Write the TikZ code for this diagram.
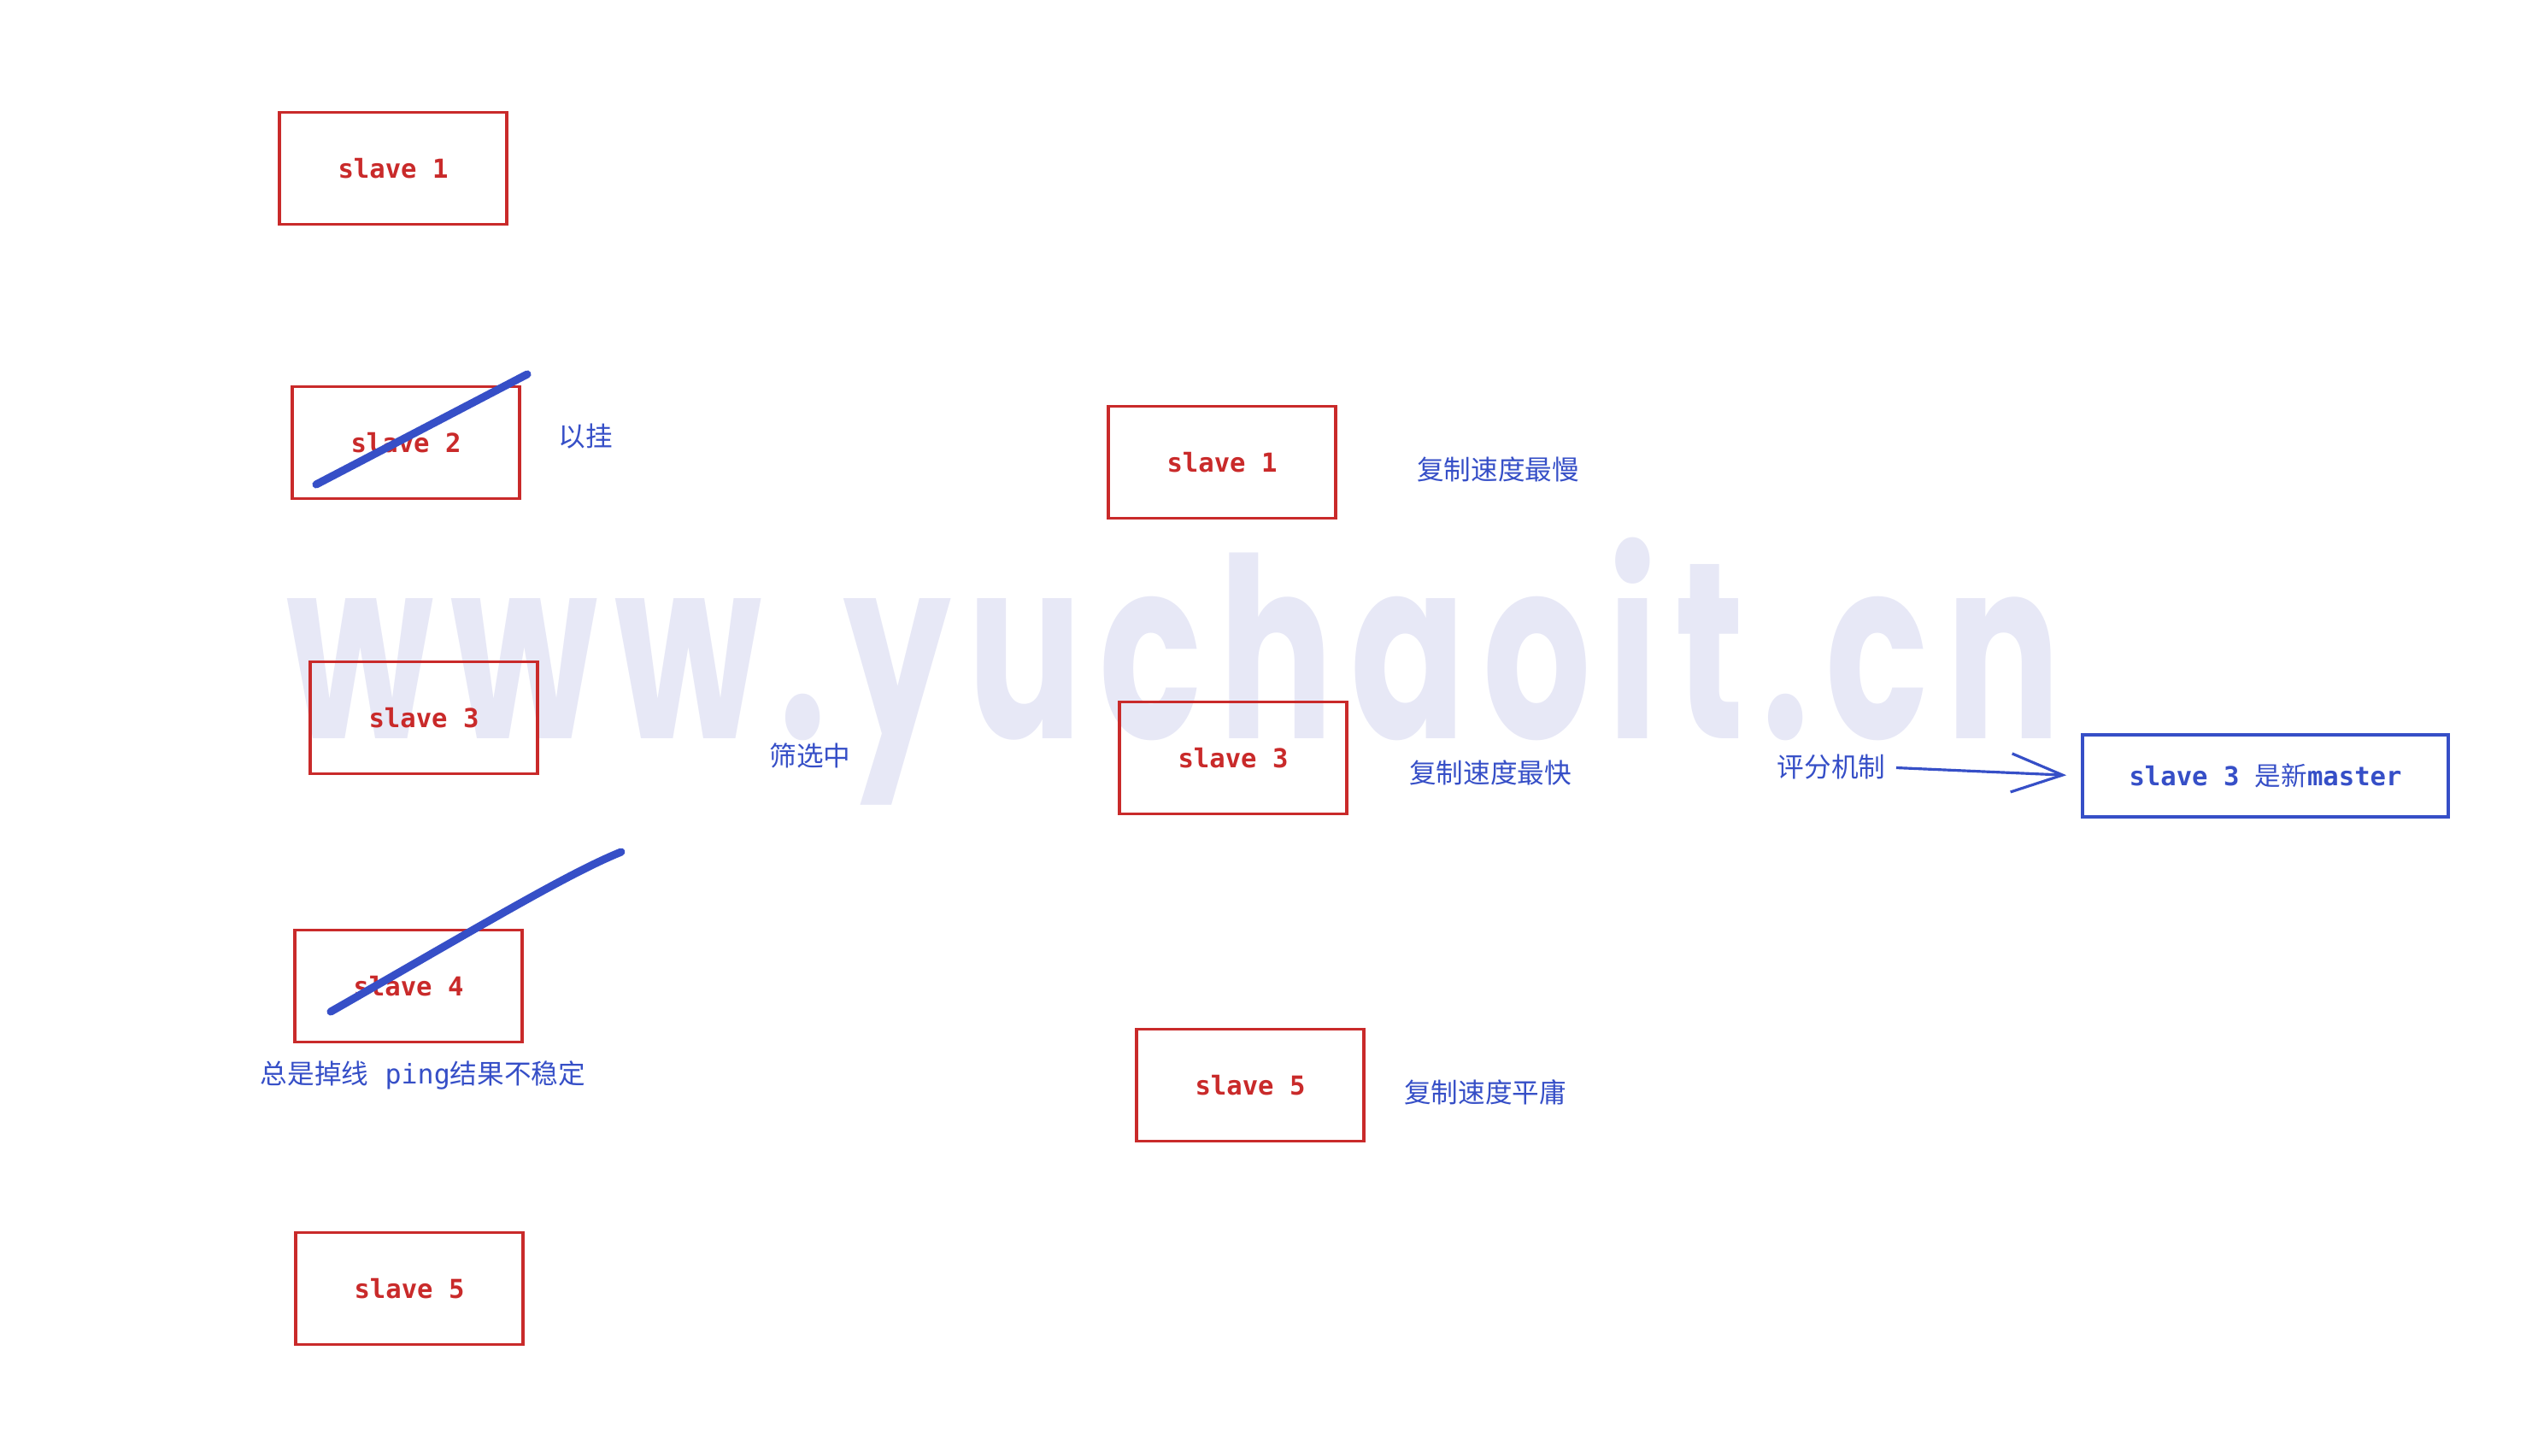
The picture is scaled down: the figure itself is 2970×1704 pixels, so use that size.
\documentclass[tikz,border=0pt]{standalone}
\usepackage{fontspec}
\setmonofont{DejaVu Sans Mono}
\newfontfamily\cjk{Noto Sans CJK SC}
\newfontfamily\wmfont{Poppins}[LetterSpace=10]
\usetikzlibrary{arrows.meta}
\definecolor{slavered}{HTML}{C92A2A}
\definecolor{penblue}{HTML}{364FC7}
\definecolor{markgray}{HTML}{E7E8F6}

\begin{document}
\begin{tikzpicture}[x=0.01cm, y=0.01cm,
		slavebox/.style={draw=slavered, line width=1pt, minimum width=2.66cm, minimum height=1.31cm, text=slavered, font=\fontsize{8.7}{10}\selectfont\ttfamily\bfseries},
		note/.style={text=penblue, inner sep=0pt, font=\fontsize{9}{10}\selectfont\cjk},
		strike/.style={draw=penblue, line width=2.6pt, line cap=round},
		pick/.style={draw=penblue, line width=0.9pt, -{Straight Barb[length=0.6cm, width=0.45cm]}}]
		\useasboundingbox (0,0) rectangle (2970,-1704);
		% watermark
		\node[anchor=south west, inner sep=0pt, text=markgray] (mark) at (335,-943) {\resizebox*{20.73cm}{3.13cm}{\wmfont\bfseries www.yuchaoit.cn}};
		% all slaves
		\node[slavebox] (s1l) at (460,-197) {slave 1};
		\node[slavebox] (s2l) at (475,-518) {slave 2};
		\node[slavebox] (s3l) at (496,-840) {slave 3};
		\node[slavebox] (s4l) at (478,-1154) {slave 4};
		\node[slavebox] (s5l) at (479,-1508) {slave 5};
		\node[note] (down2) at (685,-511) {以挂};
		\node[note] (down4) at (495,-1258) {总是掉线{\ttfamily\ ping}结果不稳定};
		\coordinate (cut2a) at (370,-567);
		\coordinate (cut2b) at (617,-438);
		\draw[strike] (cut2a) -- (cut2b);
		\coordinate (cut4a) at (387,-1184);
		\coordinate (cut4b) at (727,-997);
		\draw[strike] (cut4a) .. controls (560,-1085) and (665,-1022) .. (cut4b);
		\node[note] (filter) at (948,-884) {筛选中};
		% left after filter
		\node[slavebox] (s1m) at (1430,-541) {slave 1};
		\node[slavebox] (s3m) at (1443,-887) {slave 3};
		\node[slavebox] (s5m) at (1463,-1270) {slave 5};
		\node[note] (slow) at (1753,-549) {复制速度最慢};
		\node[note] (fast) at (1744,-904) {复制速度最快};
		\node[note] (avg) at (1738,-1278) {复制速度平庸};
		% new master
		\node[note] (score) at (2143,-898) {评分机制};
		\node[slavebox, draw=penblue, text=penblue, minimum width=4.28cm, minimum height=0.96cm] (master) at (2651,-908) {slave 3 {\cjk\mdseries 是新}master};
		\draw[pick, shorten <=0.12cm, shorten >=0.17cm] (score.east) -- (master.west);
	\end{tikzpicture}
\end{document}
